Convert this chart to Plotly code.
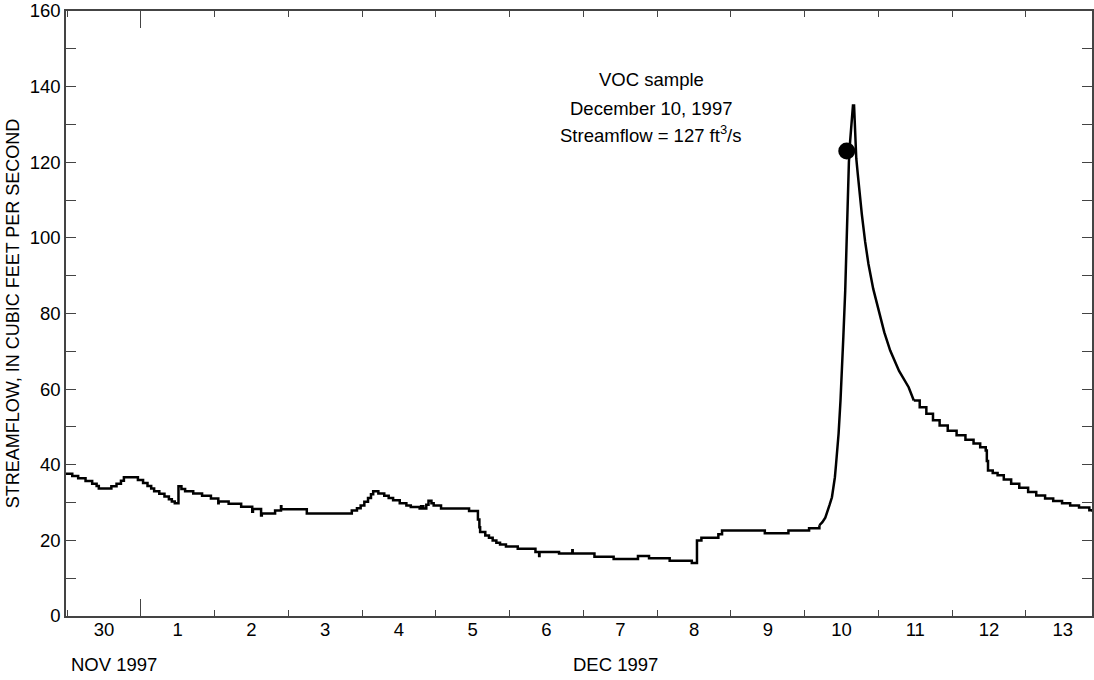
import plotly.graph_objects as go

# time in days since 1997-12-01 00:00, streamflow in ft3/s
# recorded (stepped) base flow before the storm
pre_days = [-1.02, -0.93, -0.85, -0.75, -0.66, -0.60, -0.57, -0.40, -0.33, -0.27, -0.23,
            -0.04, 0.03, 0.09, 0.14, 0.18, 0.25, 0.32, 0.38, 0.42, 0.46, 0.51, 0.55, 0.60,
            0.71, 0.83, 0.95, 1.05, 1.055, 1.19, 1.36, 1.51, 1.52, 1.63, 1.64, 1.82, 1.90,
            1.905, 2.25, 2.86, 2.93, 2.98, 3.03, 3.08, 3.12, 3.15, 3.22, 3.30, 3.36, 3.42,
            3.51, 3.60, 3.66, 3.78, 3.80, 3.83, 3.87, 3.90, 3.94, 3.97, 4.07, 4.43, 4.45,
            4.57, 4.59, 4.60, 4.67, 4.72, 4.77, 4.82, 4.87, 4.95, 5.11, 5.35, 5.40, 5.405,
            5.67, 5.85, 5.855, 6.15, 6.41, 6.74, 6.89, 7.17, 7.47, 7.54, 7.60, 7.83, 7.88,
            8.46, 8.78, 9.06, 9.20]
pre_flow = [37.6, 37.0, 36.4, 35.7, 35.0, 34.4, 33.7, 34.3, 35.0, 35.8, 36.7,
            36.0, 35.2, 34.4, 33.7, 33.0, 32.3, 31.6, 30.9, 30.3, 29.8, 34.3, 33.6, 33.0,
            32.4, 31.8, 31.1, 29.8, 30.3, 29.7, 28.9, 27.6, 28.3, 26.6, 27.1, 27.9, 29.0,
            28.2, 27.1, 27.9, 28.5, 29.2, 30.2, 31.2, 32.2, 33.0, 32.4, 31.8, 31.2, 30.6,
            29.8, 29.2, 28.8, 28.4, 29.0, 28.4, 29.4, 30.5, 29.8, 29.2, 28.4, 28.4, 27.8,
            25.5, 23.5, 22.2, 21.3, 20.7, 20.0, 19.4, 18.9, 18.4, 17.8, 16.9, 15.9, 16.9,
            16.5, 17.4, 16.5, 15.7, 15.1, 15.9, 15.3, 14.6, 14.0, 20.0, 20.7, 21.6, 22.6,
            21.9, 22.6, 23.2, 24.0]

# storm hydrograph (rise, peak and early recession)
storm_days = [9.20, 9.24, 9.28, 9.31, 9.34, 9.37, 9.39, 9.41, 9.425, 9.44, 9.46, 9.486,
              9.50, 9.525, 9.55, 9.57, 9.585, 9.60, 9.617, 9.64, 9.655, 9.67, 9.684, 9.70,
              9.72, 9.75, 9.775, 9.82, 9.865, 9.93, 10.0, 10.08, 10.16, 10.28, 10.41, 10.48]
storm_flow = [24.0, 24.8, 26.0, 27.5, 29.5, 31.4, 34.0, 36.7, 40.0, 42.9, 48.2, 57.0,
              62.0, 74.0, 86.0, 100.0, 112.5, 120.0, 125.7, 131.0, 135.0, 135.0, 125.7, 121.0,
              116.9, 110.5, 106.3, 99.0, 93.1, 86.5, 80.8, 75.0, 70.2, 64.8, 60.5, 57.0]

# stepped recession after the storm
post_days = [10.48, 10.56, 10.65, 10.74, 10.83, 10.94, 11.06, 11.18, 11.29, 11.38,
             11.455, 11.47, 11.486, 11.55, 11.616, 11.70, 11.80, 11.91, 12.03, 12.14, 12.26,
             12.37, 12.49, 12.60, 12.72, 12.86, 12.90]
post_flow = [57.0, 55.2, 53.5, 51.8, 50.4, 49.0, 47.8, 46.6, 45.6, 44.6,
             43.8, 41.0, 38.5, 37.8, 37.2, 36.1, 35.0, 33.9, 32.8, 31.9, 31.1,
             30.4, 29.8, 29.2, 28.7, 28.0, 27.6]

sample_day = [9.571]
sample_flow = [123.0]

day_centers = [-0.5, 0.5, 1.5, 2.5, 3.5, 4.5, 5.5, 6.5, 7.5, 8.5, 9.5, 10.5, 11.5, 12.5]
day_labels = ["30", "1", "2", "3", "4", "5", "6", "7", "8", "9", "10", "11", "12", "13"]

note_lines = ["VOC sample", "December 10, 1997", "Streamflow = 127 ft<sup>3</sup>/s"]
note_y = [142.0, 134.3, 127.5]

xrange = [-1.015, 12.896]
font = "Liberation Sans, Arial, sans-serif"
FS = 18.5
axcol = "#444"

fig = go.Figure()
line_style = dict(color="black", width=2.5)
fig.add_trace(go.Scatter(x=pre_days, y=pre_flow, mode="lines", line=dict(line_style, shape="hv"),
                         showlegend=False, hoverinfo="skip"))
fig.add_trace(go.Scatter(x=storm_days, y=storm_flow, mode="lines", line=dict(line_style, shape="linear"),
                         showlegend=False, hoverinfo="skip"))
fig.add_trace(go.Scatter(x=post_days, y=post_flow, mode="lines", line=dict(line_style, shape="hv"),
                         showlegend=False, hoverinfo="skip"))
fig.add_trace(go.Scatter(x=sample_day, y=sample_flow, mode="markers",
                         marker=dict(color="black", size=17), showlegend=False))
fig.add_trace(go.Scatter(x=day_centers, y=[None] * len(day_centers), xaxis="x2", mode="markers",
                         showlegend=False, hoverinfo="skip"))

annotations = [dict(text=t, x=6.92, y=yv, xref="x", yref="y", showarrow=False,
                    xanchor="center", yanchor="middle", font=dict(size=FS))
               for t, yv in zip(note_lines, note_y)]
annotations += [
    dict(text="NOV 1997", x=(69 - 66) / 1028, y=-49 / 606, xref="paper", yref="paper",
         xanchor="left", yanchor="middle", showarrow=False, font=dict(size=FS)),
    dict(text="DEC 1997", x=6.44, y=-49 / 606, xref="x", yref="paper",
         xanchor="center", yanchor="middle", showarrow=False, font=dict(size=FS)),
]

fig.update_layout(
    width=1094, height=680,
    margin=dict(l=66, r=0, t=10, b=64),
    paper_bgcolor="white", plot_bgcolor="white",
    font=dict(family=font, size=FS, color="black"),
    xaxis=dict(range=xrange, showgrid=False, zeroline=False, showline=True, linecolor=axcol,
               linewidth=1.5, mirror="allticks", ticks="inside", tickmode="array", tickvals=[0],
               ticklen=17, tickcolor=axcol, showticklabels=False,
               minor=dict(tick0=0, dtick=1, ticks="inside", ticklen=6, tickcolor=axcol)),
    xaxis2=dict(range=xrange, overlaying="x", side="bottom", anchor="y", showgrid=False,
                zeroline=False, showline=False, ticks="", tickmode="array",
                tickvals=day_centers, ticktext=day_labels, tickfont=dict(size=FS)),
    yaxis=dict(range=[0, 160], showgrid=False, zeroline=False, showline=True, linecolor=axcol,
               linewidth=1.5, mirror="allticks", ticks="inside", tickmode="linear", tick0=0, dtick=20,
               ticklen=10, tickcolor=axcol, tickfont=dict(size=FS), ticklabeloverflow="allow",
               minor=dict(tick0=0, dtick=10, ticks="inside", ticklen=5, tickcolor=axcol),
               title=dict(text="STREAMFLOW, IN CUBIC FEET PER SECOND", font=dict(size=18), standoff=5)),
    annotations=annotations,
)

fig.write_html("out.html")
